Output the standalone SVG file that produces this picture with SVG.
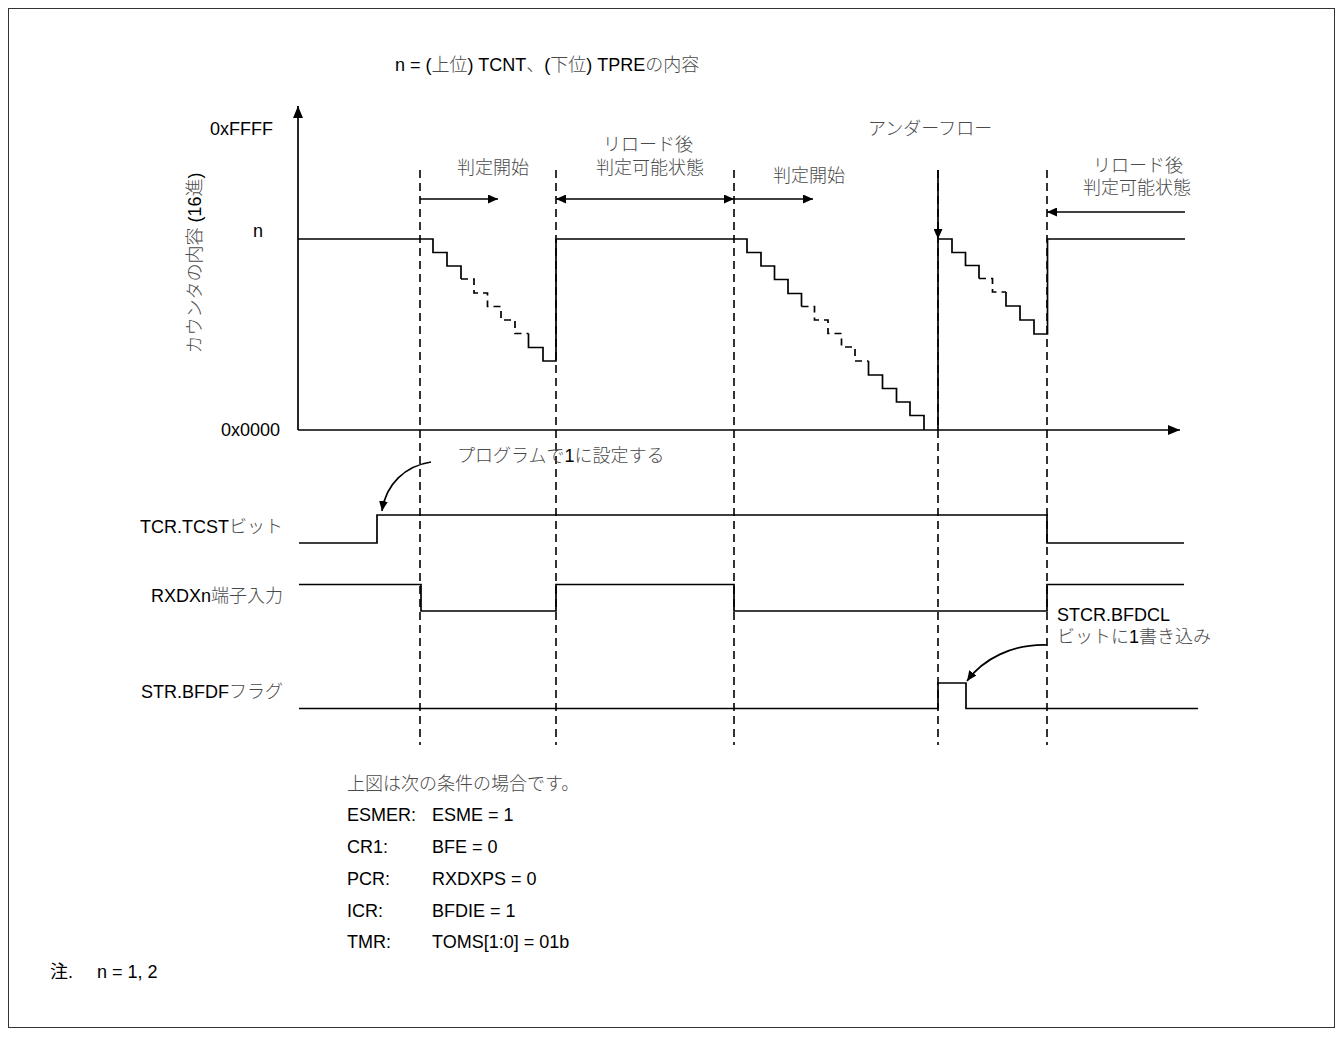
<svg xmlns="http://www.w3.org/2000/svg" width="1343" height="1045" viewBox="0 0 1343 1045">
<style>
.t{font-family:"Liberation Sans","Noto Sans CJK JP",Arial,sans-serif;font-size:18px;fill:#000}
.j{font-family:"Noto Sans CJK JP",sans-serif;fill:#4a4a4a;font-weight:300}
.w{fill:none;stroke:#000;stroke-width:1.7;stroke-linejoin:miter}
.d{fill:none;stroke:#000;stroke-width:1.7;stroke-dasharray:7,5}
.g{fill:none;stroke:#000;stroke-width:1.6;stroke-dasharray:8,5}
.a{fill:none;stroke:#000;stroke-width:1.7}
.end{text-anchor:end}
.mid{text-anchor:middle}
</style>
<defs>
<marker id="ah" viewBox="0 0 10 9" refX="10" refY="4.5" markerWidth="10" markerHeight="9" markerUnits="userSpaceOnUse" orient="auto-start-reverse"><path d="M0,0 L10,4.5 L0,9 z" fill="#000"/></marker>
<marker id="ax" viewBox="0 0 12 10" refX="12" refY="5" markerWidth="12" markerHeight="10" markerUnits="userSpaceOnUse" orient="auto"><path d="M0,0 L12,5 L0,10 z" fill="#000"/></marker>
</defs>
<rect x="8.5" y="8.5" width="1326" height="1019" fill="#fff" stroke="#333" stroke-width="1"/>

<g id="title"><text class="t" x="395" y="71">n = (<tspan class="j">上位</tspan>) TCNT<tspan class="j">、</tspan>(<tspan class="j">下位</tspan>) TPRE<tspan class="j">の内容</tspan></text></g>

<g id="axes">
<path class="a" d="M298,430 V106" marker-end="url(#ax)"/>
<path class="a" d="M298,430 H1180" marker-end="url(#ax)"/>
<text class="t" x="210" y="135">0xFFFF</text>
<text class="t" x="253" y="237">n</text>
<text class="t" x="221" y="436">0x0000</text>
<text class="t mid" transform="translate(201,263) rotate(-90)"><tspan class="j">カウンタの内容</tspan> (16<tspan class="j">進</tspan>)</text>
</g>

<g id="guides">
<path class="g" d="M420,170 V745"/>
<path class="g" d="M556,170 V745"/>
<path class="g" d="M734,170 V745"/>
<path class="g" d="M938,170 V745"/>
<path class="g" d="M1047,170 V745"/>
</g>

<g id="counter">
<path class="w" d="M298,239 H433 V252.5 H447 V266 H461 V279"/>
<path class="d" d="M461,279 H474 V293 H487.5 V306.5 H501 V320 H515 V333.5 H528.5"/>
<path class="w" d="M528.5,333.5 V347.5 H543 V361 H556 V239 H747 V252.5 H761 V266 H774.5 V279.5 H788 V293.5 H801.5 V306.5"/>
<path class="d" d="M801.5,306.5 H814.5 V320 H828 V333.5 H841.5 V347 H855 V361 H868.5"/>
<path class="w" d="M868.5,361 V375 H882.5 V388.5 H896.5 V402 H910 V415.5 H924 V430"/>
<path class="w" d="M938,430 V239 H952 V252.5 H965.5 V265.5 H979 V278.5"/>
<path class="d" d="M979,278.5 H992.5 V292 H1006"/>
<path class="w" d="M1006,292 V306 H1020 V320 H1034 V334 H1047.5 V239 H1185"/>
</g>

<g id="signals">
<path class="w" d="M299,543 H377 V515 H1047 V543 H1184"/>
<path class="w" d="M299,584.5 H421 V611 H556 V584.5 H734 V611 H1047 V584.5 H1184"/>
<path class="w" d="M299,708.5 H938 V683 H966 V708.5 H1198"/>
</g>

<g id="connectors">
<path class="a" d="M420,199 H498" marker-end="url(#ah)"/>
<path class="a" d="M556,199 H734" marker-start="url(#ah)" marker-end="url(#ah)"/>
<path class="a" d="M734,199 H813" marker-end="url(#ah)"/>
<path class="a" d="M1185,212 H1047" marker-end="url(#ah)"/>
<path class="a" d="M938,170 V239" marker-end="url(#ah)"/>
<path class="a" d="M431,462 C405,466 386,484 382,511" marker-end="url(#ah)"/>
<path class="a" d="M1047,645 C1012,644 983,659 967,681" marker-end="url(#ah)"/>
</g>

<g id="labels">
<text class="t j" x="457" y="174">判定開始</text>
<text class="t j mid" x="648" y="151">リロード後</text>
<text class="t j mid" x="650" y="174">判定可能状態</text>
<text class="t j" x="773" y="182">判定開始</text>
<text class="t j" x="868" y="135">アンダーフロー</text>
<text class="t j mid" x="1138" y="172">リロード後</text>
<text class="t j mid" x="1137" y="194">判定可能状態</text>
<text class="t j" x="457" y="462">プログラムで<tspan style="font-family:'Liberation Sans';fill:#000;font-weight:400">1</tspan>に設定する</text>
<text class="t" x="1057" y="621">STCR.BFDCL</text>
<text class="t j" x="1057" y="643">ビットに<tspan style="font-family:'Liberation Sans';fill:#000;font-weight:400">1</tspan>書き込み</text>
<text class="t end" x="283" y="533">TCR.TCST<tspan class="j">ビット</tspan></text>
<text class="t end" x="283" y="602">RXDXn<tspan class="j">端子入力</tspan></text>
<text class="t end" x="283" y="698">STR.BFDF<tspan class="j">フラグ</tspan></text>
</g>

<g id="notes">
<text class="t j" x="347" y="790">上図は次の条件の場合です。</text>
<text class="t" x="347" y="821">ESMER:</text><text class="t" x="432" y="821">ESME = 1</text>
<text class="t" x="347" y="853">CR1:</text><text class="t" x="432" y="853">BFE = 0</text>
<text class="t" x="347" y="885">PCR:</text><text class="t" x="432" y="885">RXDXPS = 0</text>
<text class="t" x="347" y="917">ICR:</text><text class="t" x="432" y="917">BFDIE = 1</text>
<text class="t" x="347" y="948">TMR:</text><text class="t" x="432" y="948">TOMS[1:0] = 01b</text>
<text class="t" x="50" y="978"><tspan style="font-family:'Noto Sans CJK JP'">注</tspan>.</text>
<text class="t" x="97" y="978">n = 1, 2</text>
</g>
</svg>
